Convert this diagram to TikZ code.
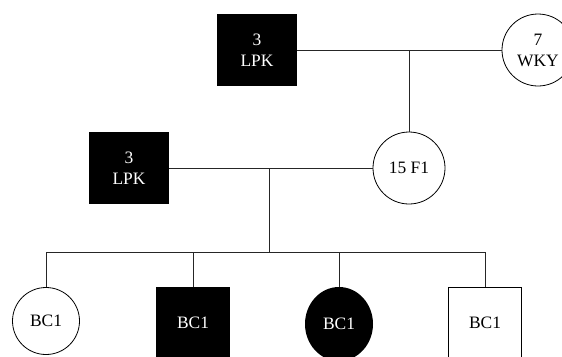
\documentclass[tikz,border=0pt]{standalone}
\usepackage{fontspec}
\setmainfont{Liberation Serif}
\usetikzlibrary{shapes.geometric}
\begin{document}
\begin{tikzpicture}[x=1bp,y=-1bp,
  every node/.style={inner sep=0pt,font=\fontsize{17.5}{21}\selectfont,align=center},
  sqf/.style={rectangle,fill=black,text=white,minimum width=80bp,minimum height=72bp},
  sqb/.style={rectangle,fill=black,text=white,minimum width=74bp,minimum height=72bp},
  sqw/.style={rectangle,draw=black,line width=0.8bp,fill=white,minimum width=73bp,minimum height=72bp},
  cw/.style={circle,draw=black,line width=0.8bp,fill=white,minimum size=72bp},
  cwb/.style={circle,draw=black,line width=0.8bp,fill=white,minimum size=67bp},
  ef/.style={ellipse,fill=black,text=white,minimum width=68bp,minimum height=74bp},
  ln/.style={draw=black!85,line width=0.9bp}]
\useasboundingbox (0,0) rectangle (562,356);
\clip (0,0) rectangle (562,356);
% top generation
\node[sqf] (g1) at (257,50) {3\\LPK};
\node[cw] (g2) at (538,50) {7\\WKY};
\coordinate (m1) at (409,50);
\draw[ln] (g1.east) -- (g2.west);
% middle
\node[sqf] (p1) at (129,168) {3\\LPK};
\node[cw] (p2) at (409,168) {15 F1};
\draw[ln] (m1) -- (p2.north);
\coordinate (m2) at (269,168);
\draw[ln] (p1.east) -- (p2.west);
\coordinate (s) at (269,252);
\draw[ln] (m2) -- (s);
% children
\node[cwb] (c1) at (46,321) {BC1};
\node[sqb] (c2) at (193,323) {BC1};
\node[ef] (c3) at (339,324) {BC1};
\node[sqw] (c4) at (485,323) {BC1};
\coordinate (h1) at (46,252);
\coordinate (h4) at (485,252);
\draw[ln] (h1) -- (h4);
\draw[ln] (h1) -- (c1.north);
\draw[ln] (c2.north |- s) -- (c2.north);
\draw[ln] (c3.north |- s) -- (c3.north);
\draw[ln] (h4) -- (c4.north);
\end{tikzpicture}
\end{document}
